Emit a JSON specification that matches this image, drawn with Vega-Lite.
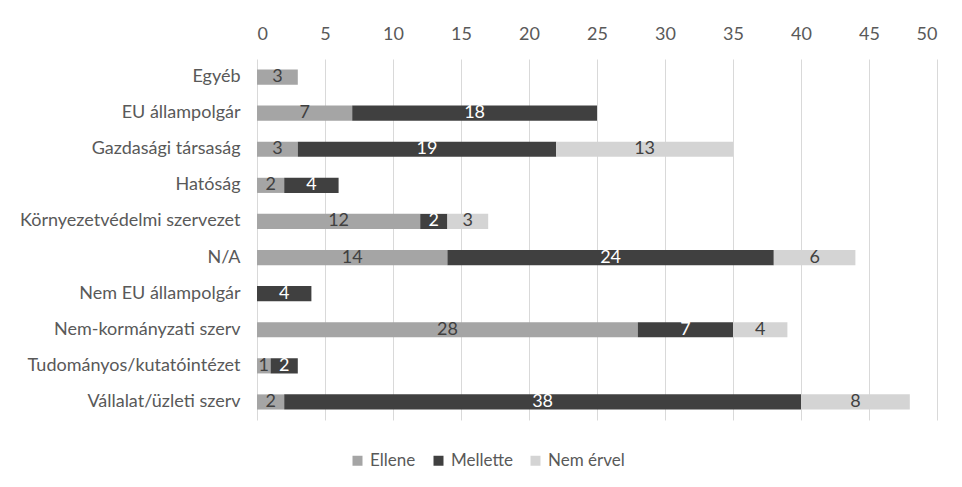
{
  "$schema": "https://vega.github.io/schema/vega-lite/v6.json",
  "width": 680,
  "height": 361,
  "autosize": {"type": "none"},
  "padding": {"left": 257, "top": 59, "right": 25, "bottom": 67},
  "background": "white",
  "config": {
    "view": {"stroke": null},
    "font": "Lato"
  },
  "data": {
    "values": [
      {"cat": "Egyéb", "s": "Ellene", "o": 0, "v": 3},
      {"cat": "EU állampolgár", "s": "Ellene", "o": 0, "v": 7},
      {"cat": "EU állampolgár", "s": "Mellette", "o": 1, "v": 18},
      {"cat": "Gazdasági társaság", "s": "Ellene", "o": 0, "v": 3},
      {"cat": "Gazdasági társaság", "s": "Mellette", "o": 1, "v": 19},
      {"cat": "Gazdasági társaság", "s": "Nem érvel", "o": 2, "v": 13},
      {"cat": "Hatóság", "s": "Ellene", "o": 0, "v": 2},
      {"cat": "Hatóság", "s": "Mellette", "o": 1, "v": 4},
      {"cat": "Környezetvédelmi szervezet", "s": "Ellene", "o": 0, "v": 12},
      {"cat": "Környezetvédelmi szervezet", "s": "Mellette", "o": 1, "v": 2},
      {"cat": "Környezetvédelmi szervezet", "s": "Nem érvel", "o": 2, "v": 3},
      {"cat": "N/A", "s": "Ellene", "o": 0, "v": 14},
      {"cat": "N/A", "s": "Mellette", "o": 1, "v": 24},
      {"cat": "N/A", "s": "Nem érvel", "o": 2, "v": 6},
      {"cat": "Nem EU állampolgár", "s": "Mellette", "o": 1, "v": 4},
      {"cat": "Nem-kormányzati szerv", "s": "Ellene", "o": 0, "v": 28},
      {"cat": "Nem-kormányzati szerv", "s": "Mellette", "o": 1, "v": 7},
      {"cat": "Nem-kormányzati szerv", "s": "Nem érvel", "o": 2, "v": 4},
      {"cat": "Tudományos/kutatóintézet", "s": "Ellene", "o": 0, "v": 1},
      {"cat": "Tudományos/kutatóintézet", "s": "Mellette", "o": 1, "v": 2},
      {"cat": "Vállalat/üzleti szerv", "s": "Ellene", "o": 0, "v": 2},
      {"cat": "Vállalat/üzleti szerv", "s": "Mellette", "o": 1, "v": 38},
      {"cat": "Vállalat/üzleti szerv", "s": "Nem érvel", "o": 2, "v": 8}
    ]
  },
  "transform": [
    {"stack": "v", "groupby": ["cat"], "sort": [{"field": "o"}], "as": ["x0", "x1"]},
    {"calculate": "(datum.x0 + datum.x1) / 2", "as": "mid"}
  ],
  "encoding": {
    "y": {
      "field": "cat",
      "type": "nominal",
      "sort": null,
      "scale": {"paddingInner": 0.58, "paddingOuter": 0.29},
      "axis": {
        "title": null,
        "domain": false,
        "ticks": false,
        "labelPadding": 17,
        "labelFontSize": 18,
        "labelLimit": 300,
        "labelColor": "#595959"
      }
    }
  },
  "layer": [
    {
      "mark": {"type": "bar"},
      "encoding": {
        "x": {
          "field": "x0",
          "type": "quantitative",
          "scale": {"domain": [0, 50], "nice": false},
          "axis": {
            "orient": "top",
            "title": null,
            "values": [0, 5, 10, 15, 20, 25, 30, 35, 40, 45, 50],
            "domain": false,
            "ticks": false,
            "labelPadding": 16,
            "labelFontSize": 18,
            "labelColor": "#595959",
            "grid": true,
            "gridColor": "#d9d9d9",
            "gridWidth": 1
          }
        },
        "x2": {"field": "x1"},
        "color": {
          "field": "s",
          "type": "nominal",
          "scale": {"domain": ["Ellene", "Mellette", "Nem érvel"], "range": ["#a5a5a5", "#404040", "#d4d4d4"]},
          "legend": {
            "title": null,
            "orient": "none",
            "legendX": 92,
            "legendY": 393,
            "direction": "horizontal",
            "symbolType": "square",
            "symbolSize": 100,
            "symbolStrokeWidth": 0,
            "labelFontSize": 17,
            "labelColor": "#595959",
            "columnPadding": 14,
            "labelOffset": 4
          }
        }
      }
    },
    {
      "mark": {"type": "text", "fontSize": 18, "baseline": "middle", "align": "center"},
      "encoding": {
        "x": {"field": "mid", "type": "quantitative"},
        "text": {"field": "v", "type": "quantitative"},
        "color": {
          "condition": {"test": "datum.s === 'Mellette'", "value": "#ffffff"},
          "value": "#404040"
        }
      }
    }
  ]
}
